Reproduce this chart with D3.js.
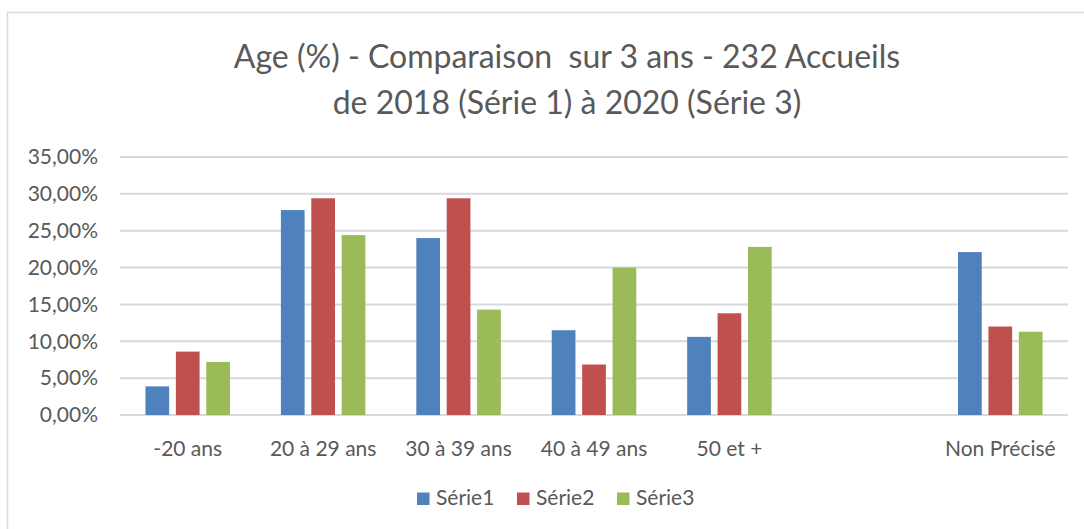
<!DOCTYPE html>
<html>
<head>
<meta charset="utf-8">
<script src="https://cdn.jsdelivr.net/npm/d3@7"></script>
<style>
  body { margin: 0; background: #fff; }
  svg { display: block; font-family: Lato, 'Open Sans', sans-serif; }
</style>
</head>
<body>
<svg id="chart" width="1084" height="529"></svg>
<script>
const categories = ['-20 ans', '20 à 29 ans', '30 à 39 ans', '40 à 49 ans', '50 et +', '', 'Non Précisé']
const seriesNames = ['Série1', 'Série2', 'Série3']
const serie1 = [0.0388, 0.278, 0.24, 0.115, 0.106, null, 0.221]
const serie2 = [0.086, 0.294, 0.294, 0.0685, 0.138, null, 0.12]
const serie3 = [0.072, 0.244, 0.143, 0.2, 0.228, null, 0.113]
const yTicks = [0, 0.05, 0.1, 0.15, 0.2, 0.25, 0.3, 0.35]
const titleLines = ['Age (%) - Comparaison  sur 3 ans - 232 Accueils', 'de 2018 (Série 1) à 2020 (Série 3)']

const colors = ['#4f81bd', '#c0504d', '#9bbb59']
const textColor = '#595959'
const gridColor = '#d9d9d9'

const svg = d3.select('#chart')
const margin = { left: 120, right: 16, top: 157, bottom: 114 }
const width = 1084 - margin.left - margin.right
const height = 529 - margin.top - margin.bottom

const fr = d3.formatLocale({ decimal: ',', thousands: ' ', grouping: [3], currency: ['', ' €'] })
const pct = fr.format('.2%')

// outer chart frame (cut by the picture on right and bottom)
svg.append('rect')
  .attr('x', 7.5).attr('y', 12.5)
  .attr('width', 1200).attr('height', 600)
  .attr('fill', 'none')
  .attr('stroke', gridColor)
  .attr('stroke-width', 1.5)

svg.append('g')
  .selectAll('text')
  .data(titleLines)
  .join('text')
  .attr('x', 567)
  .attr('y', (_, i) => 68 + i * 46)
  .attr('text-anchor', 'middle')
  .attr('fill', textColor)
  .style('font-size', '32px')
  .style('white-space', 'pre')
  .text((d) => d)

const g = svg.append('g').attr('transform', `translate(${margin.left},${margin.top})`)

const x0 = d3.scaleBand().domain(d3.range(categories.length)).range([0, width])
  .paddingInner(0.376).paddingOuter(0.188)
const x1 = d3.scaleBand().domain(d3.range(seriesNames.length)).range([0, x0.bandwidth()])
  .paddingInner(0.22)
const y = d3.scaleLinear().domain([0, 0.35]).range([height, 0])

// gridlines
g.append('g')
  .selectAll('line')
  .data(yTicks)
  .join('line')
  .attr('x1', 0).attr('x2', width)
  .attr('y1', (d) => y(d)).attr('y2', (d) => y(d))
  .attr('stroke', gridColor)
  .attr('stroke-width', 2)

const yAxis = g.append('g')
  .call(d3.axisLeft(y).tickValues(yTicks).tickFormat(pct).tickSize(0).tickPadding(22))
yAxis.select('.domain').remove()
yAxis.selectAll('text')
  .attr('fill', textColor)
  .style('font-size', '21px')
  .style('font-family', 'Lato, sans-serif')

const xAxis = g.append('g')
  .attr('transform', `translate(0,${height})`)
  .call(d3.axisBottom(x0).tickFormat((i) => categories[i]).tickSize(0).tickPadding(26))
xAxis.select('.domain').remove()
xAxis.selectAll('text')
  .attr('fill', textColor)
  .style('font-size', '21px')
  .style('font-family', 'Lato, sans-serif')

const allSeries = [serie1, serie2, serie3]
const groups = g.append('g')
  .selectAll('g')
  .data(allSeries)
  .join('g')
  .attr('fill', (_, s) => colors[s])

groups.selectAll('rect')
  .data((vals, s) => vals.map((v, i) => ({ v, i, s })).filter((d) => d.v != null))
  .join('rect')
  .attr('x', (d) => x0(d.i) + x1(d.s))
  .attr('width', x1.bandwidth())
  .attr('y', (d) => y(d.v))
  .attr('height', (d) => y(0) - y(d.v))

// legend
const legend = svg.append('g').attr('transform', 'translate(417,505)')
const item = legend.selectAll('g')
  .data(seriesNames)
  .join('g')
  .attr('transform', (_, i) => `translate(${i * 100},0)`)
item.append('rect')
  .attr('y', -12.5)
  .attr('width', 12.5).attr('height', 12.5)
  .attr('fill', (_, i) => colors[i])
item.append('text')
  .attr('x', 19)
  .attr('fill', textColor)
  .style('font-size', '21px')
  .text((d) => d)
</script>
</body>
</html>
